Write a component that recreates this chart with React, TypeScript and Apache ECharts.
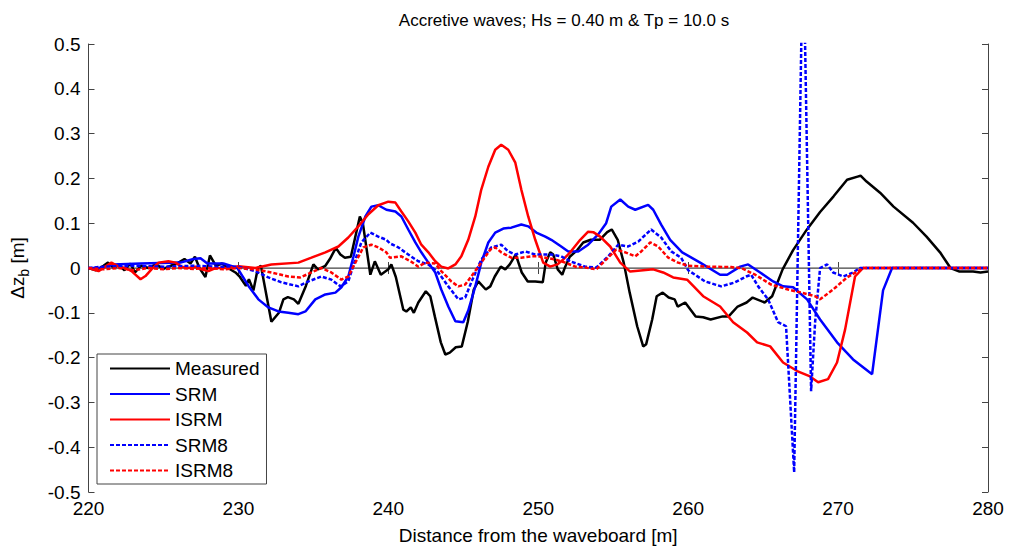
import React, { useEffect, useRef } from "react";
import * as echarts from "echarts";

const TITLE = "Accretive waves; Hs = 0.40 m & Tp = 10.0 s";
const X_NAME = "Distance from the waveboard [m]";
const SERIES_NAMES = ["Measured", "SRM", "ISRM", "SRM8", "ISRM8"];

const measured: number[][] = [
  [220.0, 0.0], [220.5, -0.005], [221.0, 0.005], [221.3, 0.012], [221.7, 0.0], [222.0, 0.008], [222.4, -0.005],
  [222.8, 0.01], [223.1, -0.01], [223.5, 0.005], [224.0, 0.0], [224.5, 0.008], [225.0, -0.002], [225.5, 0.005],
  [226.0, 0.012], [226.4, 0.02], [226.8, 0.01], [227.1, 0.025], [227.4, 0.0], [227.8, -0.02], [228.1, 0.028],
  [228.5, 0.005], [228.9, 0.01], [229.3, 0.0], [229.8, -0.01], [230.1, -0.02], [230.5, -0.04], [230.7, -0.025],
  [231.0, -0.05], [231.3, 0.0], [231.5, 0.005], [232.2, -0.12], [232.7, -0.1], [233.0, -0.07], [233.3, -0.065],
  [233.7, -0.07], [234.0, -0.08], [234.5, -0.04], [235.0, 0.008], [235.3, -0.003], [235.8, 0.005], [236.1, 0.02],
  [236.5, 0.045], [236.8, 0.03], [237.1, 0.023], [237.5, 0.025], [238.1, 0.115], [238.3, 0.1], [238.8, -0.015],
  [239.1, 0.015], [239.5, -0.015], [240.0, -0.003], [240.2, 0.008], [240.5, -0.02], [241.0, -0.093], [241.2, -0.097],
  [241.5, -0.088], [241.7, -0.1], [242.0, -0.077], [242.5, -0.052], [242.8, -0.063], [243.1, -0.108], [243.5, -0.166],
  [243.8, -0.193], [244.1, -0.189], [244.5, -0.177], [244.9, -0.175], [245.3, -0.12], [245.7, -0.048], [246.0, -0.03],
  [246.5, -0.048], [246.8, -0.041], [247.1, -0.019], [247.5, 0.003], [247.8, -0.003], [248.1, 0.008], [248.5, 0.03],
  [248.9, -0.01], [249.3, -0.03], [249.8, -0.03], [250.3, -0.032], [250.5, 0.012], [250.8, 0.035], [251.0, 0.03],
  [251.3, -0.003], [251.6, -0.015], [251.8, 0.003], [252.1, 0.025], [252.6, 0.04], [253.0, 0.057], [253.5, 0.063],
  [254.1, 0.063], [254.6, 0.08], [254.9, 0.086], [255.3, 0.063], [255.7, 0.012], [256.1, -0.055], [256.6, -0.13],
  [257.0, -0.175], [257.2, -0.17], [257.6, -0.115], [257.9, -0.063], [258.3, -0.055], [258.7, -0.066], [259.1, -0.07],
  [259.3, -0.086], [259.8, -0.077], [260.5, -0.108], [261.0, -0.11], [261.5, -0.115], [262.3, -0.108], [262.7, -0.108],
  [263.3, -0.086], [263.9, -0.077], [264.3, -0.066], [265.1, -0.077], [265.6, -0.063], [266.3, -0.003], [267.0, 0.04],
  [267.9, 0.085], [268.8, 0.125], [269.7, 0.16], [270.6, 0.197], [271.3, 0.204], [271.5, 0.206], [271.9, 0.193],
  [272.8, 0.168], [273.7, 0.137], [275.0, 0.101], [275.9, 0.07], [276.8, 0.035], [277.5, 0.0], [278.1, -0.008],
  [279.0, -0.008], [279.5, -0.01], [280.0, -0.008],
];

const srm: number[][] = [
  [220.0, 0.0], [220.8, 0.0], [221.67, 0.008], [223.47, 0.01], [226.13, 0.012], [227.0, 0.02], [227.47, 0.022],
  [227.93, 0.01], [229.0, 0.01], [229.93, 0.0], [230.67, -0.04], [231.33, -0.07], [232.0, -0.088], [232.67, -0.097],
  [233.33, -0.1], [234.0, -0.103], [234.47, -0.097], [235.13, -0.07], [235.8, -0.059], [236.47, -0.055],
  [236.87, -0.043], [237.33, -0.019], [237.67, 0.025], [238.0, 0.07], [238.47, 0.115], [238.87, 0.137],
  [239.33, 0.14], [239.87, 0.13], [240.47, 0.126], [240.87, 0.115], [241.33, 0.086], [241.8, 0.057], [242.2, 0.035],
  [242.67, 0.012], [243.13, -0.01], [243.53, -0.048], [244.0, -0.086], [244.47, -0.119], [245.0, -0.121],
  [245.33, -0.095], [245.8, -0.041], [246.2, 0.012], [246.67, 0.057], [247.13, 0.079], [247.67, 0.088],
  [248.2, 0.09], [248.87, 0.097], [249.33, 0.093], [249.87, 0.079], [250.47, 0.07], [250.87, 0.063], [251.53, 0.048],
  [252.0, 0.037], [252.67, 0.037], [253.33, 0.052], [254.0, 0.075], [254.53, 0.1], [254.87, 0.137], [255.47, 0.153],
  [256.0, 0.137], [256.47, 0.13], [257.33, 0.141], [257.67, 0.13], [258.2, 0.097], [258.8, 0.063], [259.6, 0.035],
  [260.8, 0.012], [262.13, -0.015], [262.6, -0.015], [263.47, 0.003], [264.0, 0.008], [264.8, -0.01],
  [265.67, -0.03], [266.33, -0.041], [267.0, -0.043], [267.93, -0.07], [268.8, -0.115], [269.93, -0.166],
  [271.0, -0.204], [272.27, -0.237], [273.0, -0.05], [273.6, 0.0], [280.0, 0.0],
];

const isrm: number[][] = [
  [220.0, 0.0], [220.67, -0.007], [221.53, 0.012], [222.0, 0.003], [222.47, 0.0], [222.87, -0.007], [223.47, -0.025],
  [223.8, -0.018], [224.2, -0.003], [224.67, 0.012], [225.33, 0.015], [225.8, 0.012], [226.2, 0.003], [226.67, 0.0],
  [227.13, 0.003], [227.53, -0.003], [228.0, -0.007], [228.47, 0.0], [229.33, 0.0], [230.0, 0.004], [231.13, 0.0],
  [232.2, 0.008], [234.0, 0.012], [234.87, 0.023], [235.8, 0.035], [236.67, 0.048], [237.33, 0.068], [238.0, 0.093],
  [238.67, 0.12], [239.33, 0.14], [240.0, 0.148], [240.47, 0.146], [240.87, 0.126], [241.33, 0.104], [241.8, 0.079],
  [242.2, 0.052], [242.67, 0.035], [243.13, 0.015], [243.53, 0.003], [244.0, -0.001], [244.47, 0.008],
  [244.87, 0.026], [245.33, 0.063], [245.8, 0.115], [246.2, 0.175], [246.67, 0.226], [247.13, 0.264], [247.53, 0.275],
  [248.0, 0.264], [248.47, 0.235], [248.87, 0.175], [249.33, 0.115], [249.8, 0.063], [250.33, 0.012], [250.8, 0.003],
  [251.27, 0.008], [251.67, 0.019], [252.13, 0.035], [252.8, 0.063], [253.33, 0.081], [253.67, 0.08], [254.13, 0.07],
  [254.8, 0.048], [255.47, 0.012], [256.13, -0.008], [257.0, -0.005], [257.67, -0.003], [258.33, -0.01],
  [259.0, -0.021], [259.93, -0.026], [261.0, -0.063], [262.13, -0.086], [263.0, -0.121], [263.93, -0.144],
  [264.6, -0.166], [265.47, -0.175], [266.33, -0.211], [267.27, -0.23], [268.13, -0.242], [268.67, -0.255],
  [269.33, -0.248], [269.93, -0.211], [270.47, -0.137], [271.13, -0.019], [271.67, 0.0], [280.0, 0.0],
];

const srm8: number[][] = [
  [220.0, 0.0], [221.0, 0.003], [223.0, 0.005], [225.0, 0.003], [227.0, 0.005], [228.5, 0.003], [230.0, 0.003],
  [231.13, -0.007], [232.0, -0.021], [232.87, -0.032], [234.0, -0.041], [234.67, -0.03], [235.53, -0.019],
  [236.2, -0.026], [236.8, -0.041], [237.33, -0.03], [237.8, 0.019], [238.2, 0.057], [238.8, 0.079], [239.33, 0.07],
  [239.87, 0.063], [240.1, 0.055], [240.67, 0.046], [241.33, 0.03], [242.0, 0.015], [242.67, 0.008], [243.33, -0.01],
  [244.0, -0.041], [244.67, -0.07], [245.13, -0.066], [245.53, -0.032], [246.2, 0.019], [246.87, 0.046],
  [247.53, 0.052], [248.0, 0.037], [248.47, 0.03], [249.13, 0.037], [249.8, 0.03], [250.87, 0.03], [251.53, 0.026],
  [252.2, 0.014], [253.13, 0.003], [253.87, 0.001], [254.67, 0.026], [255.33, 0.052], [256.0, 0.048],
  [256.67, 0.059], [257.53, 0.086], [258.2, 0.068], [258.87, 0.037], [259.53, 0.023], [260.0, -0.005],
  [261.13, -0.03], [262.2, -0.041], [263.13, -0.032], [263.87, -0.019], [264.2, -0.015], [264.67, -0.041],
  [265.33, -0.07], [266.0, -0.121], [266.53, -0.13], [267.07, -0.456], [267.67, 0.75], [268.2, -0.275],
  [268.47, -0.12], [268.8, 0.0], [269.27, 0.008], [269.67, -0.01], [270.33, -0.019], [271.0, -0.01], [271.47, 0.0],
  [280.0, 0.0],
];

const isrm8: number[][] = [
  [220.0, 0.0], [221.0, -0.003], [222.0, 0.0], [223.0, -0.005], [224.0, 0.0], [225.0, -0.003], [226.0, 0.0],
  [227.0, -0.002], [228.0, 0.0], [229.0, -0.003], [230.0, 0.0], [231.13, -0.003], [232.2, -0.01], [233.33, -0.019],
  [234.13, -0.021], [234.87, -0.01], [235.53, 0.0], [236.2, -0.01], [236.87, -0.026], [237.33, -0.019],
  [237.8, 0.012], [238.33, 0.046], [238.87, 0.052], [239.33, 0.046], [239.87, 0.035], [240.1, 0.023],
  [240.87, 0.026], [241.53, 0.014], [242.0, 0.003], [242.47, 0.012], [243.13, 0.01], [243.53, -0.007],
  [244.2, -0.03], [244.67, -0.041], [245.13, -0.037], [245.53, -0.019], [246.2, 0.012], [246.8, 0.041],
  [247.13, 0.046], [247.53, 0.035], [248.2, 0.023], [248.87, 0.023], [249.53, 0.026], [250.0, 0.026],
  [251.13, 0.019], [251.8, 0.012], [252.47, 0.003], [253.13, 0.001], [253.87, -0.003], [254.53, 0.019],
  [255.2, 0.041], [255.8, 0.035], [256.47, 0.026], [256.87, 0.037], [257.47, 0.057], [258.0, 0.048],
  [258.67, 0.023], [259.33, 0.012], [260.0, 0.005], [261.33, 0.003], [262.87, 0.002], [263.53, 0.0],
  [264.47, -0.015], [265.53, -0.037], [266.67, -0.048], [267.53, -0.055], [268.47, -0.063], [268.8, -0.07],
  [269.67, -0.048], [270.6, -0.021], [271.27, -0.008], [271.67, 0.0], [280.0, 0.0],
];

const zeroLine: number[][] = [[220, 0], [280, 0]];

const FONT = '"Liberation Sans", Arial, Helvetica, sans-serif';

export default function App() {
  const ref = useRef<HTMLDivElement>(null);
  useEffect(() => {
    if (!ref.current) return;
    const chart = echarts.init(ref.current, undefined, { renderer: "svg" });
    const axisLine = { show: true, lineStyle: { color: "#444", width: 1 } };
    const tick = { show: true, inside: true, length: 6, lineStyle: { color: "#444" } };
    const mk = (name: string, data: number[][], color: string, dashed: boolean, z: number) => ({
      name,
      type: "line",
      data,
      symbol: "none",
      showSymbol: false,
      clip: true,
      z,
      lineStyle: { color, width: 2.5, type: dashed ? [4, 2] : "solid" },
      itemStyle: { color },
    });
    chart.setOption({
      animation: false,
      textStyle: { fontFamily: FONT },
      grid: { left: 88, right: 22, top: 44, bottom: 57, containLabel: false },
      graphic: [
        {
          type: "text",
          x: 564,
          y: 20,
          style: {
            text: TITLE,
            fontSize: 17,
            fontFamily: FONT,
            fill: "#000",
            textAlign: "center",
            textVerticalAlign: "middle",
          },
        },
      ],
      legend: {
        orient: "vertical",
        left: 97,
        top: 354,
        data: SERIES_NAMES,
        itemWidth: 60,
        itemHeight: 12,
        itemGap: 6.5,
        padding: [5, 7, 4, 12],
        backgroundColor: "#fff",
        borderColor: "#444",
        borderWidth: 1,
        borderRadius: 0,
        itemStyle: { opacity: 0 },
        textStyle: { fontSize: 19, lineHeight: 19, color: "#000", fontFamily: FONT },
      },
      xAxis: [
        {
          type: "value",
          min: 220,
          max: 280,
          interval: 10,
          position: "bottom",
          name: X_NAME,
          nameLocation: "middle",
          nameGap: 34,
          nameTextStyle: { fontSize: 19, color: "#000", fontFamily: FONT },
          axisLine,
          axisTick: tick,
          axisLabel: { color: "#000", fontSize: 19, margin: 7, fontFamily: FONT },
          splitLine: { show: false },
        },
        {
          type: "value",
          min: 220,
          max: 280,
          interval: 10,
          position: "top",
          axisLine,
          axisTick: tick,
          axisLabel: { show: false },
          splitLine: { show: false },
        },
      ],
      yAxis: [
        {
          type: "value",
          min: -0.5,
          max: 0.5,
          interval: 0.1,
          position: "left",
          name: "{a|Δz}{b|b}{a| [m]}",
          nameLocation: "middle",
          nameGap: 58,
          nameRotate: 90,
          nameTextStyle: {
            color: "#000",
            rich: {
              a: { fontSize: 19, fontFamily: FONT, color: "#000" },
              b: { fontSize: 14, fontFamily: FONT, color: "#000", padding: [12, 0, 0, 0] },
            },
          },
          axisLine,
          axisTick: tick,
          axisLabel: {
            color: "#000",
            fontSize: 19,
            margin: 8,
            fontFamily: FONT,
            formatter: (v: number) => (Math.abs(v) < 1e-9 ? "0" : v.toFixed(1)),
          },
          splitLine: { show: false },
        },
        {
          type: "value",
          min: -0.5,
          max: 0.5,
          interval: 0.1,
          position: "right",
          axisLine,
          axisTick: tick,
          axisLabel: { show: false },
          splitLine: { show: false },
        },
      ],
      series: [
        {
          name: "zero",
          type: "line",
          data: zeroLine,
          symbol: "none",
          silent: true,
          z: 1,
          lineStyle: { color: "#808080", width: 1.3 },
        },
        mk("Measured", measured, "#000000", false, 2),
        mk("SRM", srm, "#0000ff", false, 3),
        mk("ISRM", isrm, "#ff0000", false, 4),
        mk("SRM8", srm8, "#0000ff", true, 5),
        mk("ISRM8", isrm8, "#ff0000", true, 6),
      ],
    });
    return () => chart.dispose();
  }, []);
  return (
    <div
      ref={ref}
      style={{ position: "fixed", left: 0, top: 0, width: 1010, height: 550, background: "#fff" }}
    />
  );
}
